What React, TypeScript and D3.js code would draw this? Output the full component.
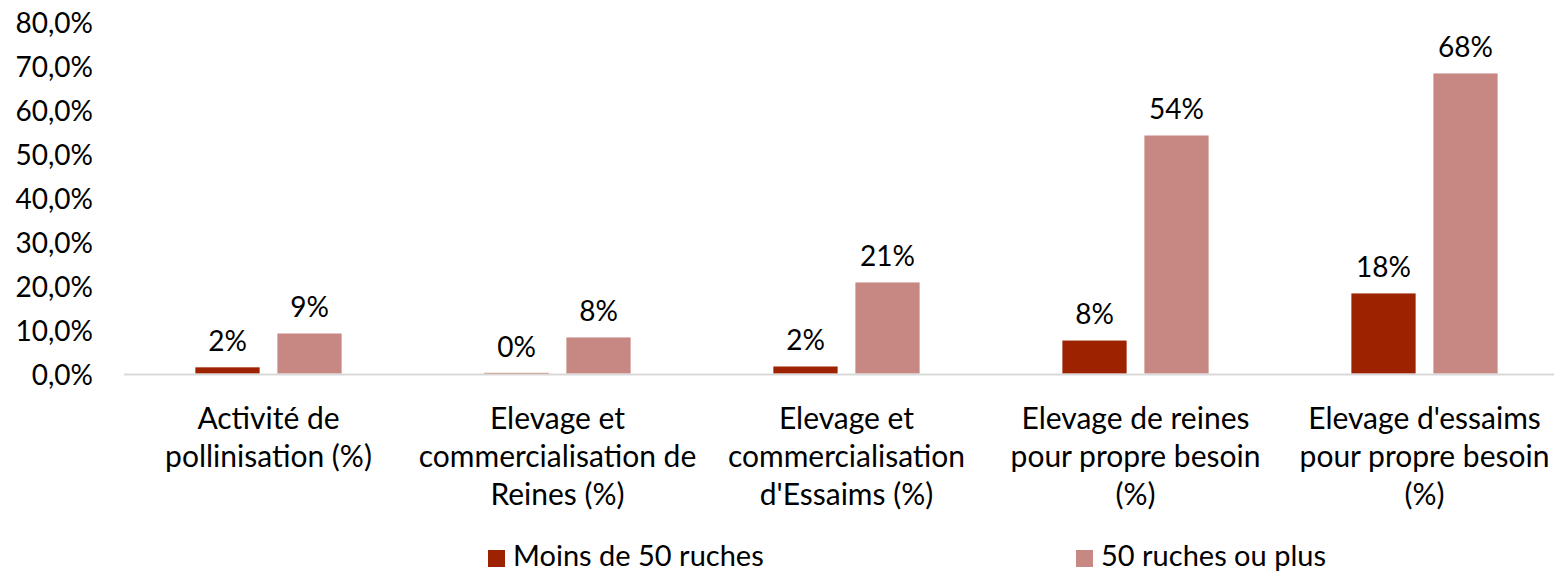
import React from "react";
import * as d3 from "d3";

const categories: string[][] = [
  ["Activité de", "pollinisation (%)"],
  ["Elevage et", "commercialisation de", "Reines (%)"],
  ["Elevage et", "commercialisation", "d'Essaims (%)"],
  ["Elevage de reines", "pour propre besoin", "(%)"],
  ["Elevage d'essaims", "pour propre besoin", "(%)"],
];
const seriesNames = ["Moins de 50 ruches", "50 ruches ou plus"];
const moins50 = [1.6, 0.3, 1.8, 7.7, 18.4];
const plus50 = [9.3, 8.4, 20.9, 54.3, 68.4];
const yTicks = [0, 10, 20, 30, 40, 50, 60, 70, 80];
const colors = ["#9C2200", "#C78883"];

const W = 1554;
const H = 573;
const FONT = "Lato, 'Open Sans', sans-serif";

export default function App() {
  const x0 = d3
    .scaleBand<number>()
    .domain(d3.range(categories.length))
    .range([124, 1569])
    .paddingInner(0)
    .paddingOuter(0);
  const y = d3.scaleLinear().domain([0, 80]).range([374, 22]);
  const barW = 65;
  const gap = 17;
  const series = [moins50, plus50];
  const fmtTick = (v: number) => v.toFixed(1).replace(".", ",") + "%";

  return (
    <svg width={W} height={H} style={{ position: "absolute", left: 0, top: 0, background: "#fff" }} fontFamily={FONT}>
      {yTicks.map((t) => (
        <text key={t} x={93} y={y(t)} textAnchor="end" dominantBaseline="central" fontSize={28} fill="#000">
          {fmtTick(t)}
        </text>
      ))}
      {categories.map((_, i) => {
        const cx = (x0(i) as number) + x0.bandwidth() / 2;
        return series.map((s, si) => {
          const bx = cx - gap / 2 - barW + si * (barW + gap);
          const v = s[i];
          return (
            <g key={`${i}-${si}`}>
              <rect x={bx} y={y(v)} width={barW} height={y(0) - y(v)} fill={colors[si]} stroke="#fff" strokeWidth={0.75} />
              <text x={bx + barW / 2} y={y(v) - 27} textAnchor="middle" dominantBaseline="central" fontSize={28} fill="#000">
                {Math.round(v)}%
              </text>
            </g>
          );
        });
      })}
      <line x1={124} x2={W} y1={y(0) + 0.5} y2={y(0) + 0.5} stroke="#D9D9D9" strokeWidth={2} />
      {categories.map((lines, i) => {
        const cx = (x0(i) as number) + x0.bandwidth() / 2;
        return lines.map((l, li) => (
          <text key={`${i}-${li}`} x={cx} y={417 + li * 38} textAnchor="middle" dominantBaseline="central" fontSize={30} fill="#000">
            {l}
          </text>
        ));
      })}
      {seriesNames.map((n, si) => {
        const lx = si === 0 ? 488 : 1076;
        return (
          <g key={n}>
            <rect x={lx} y={550} width={17} height={17} fill={colors[si]} />
            <text x={lx + 25} y={566} fontSize={29} fill="#000">
              {n}
            </text>
          </g>
        );
      })}
    </svg>
  );
}
